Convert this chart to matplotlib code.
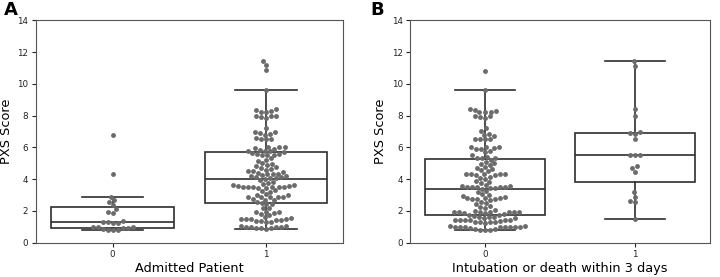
import numpy as np
import pandas as pd
import seaborn as sns
import matplotlib.pyplot as plt

# PXS score, panel A: admitted patient 0 / 1
admit_0 = [0.78, 0.8, 0.8, 0.85, 0.9, 0.9, 0.95, 1.0, 1.0,
           1.2, 1.25, 1.3, 1.3, 1.35, 1.85, 1.95, 2.1, 2.35,
           2.55, 2.65, 2.9, 4.3, 6.8]
admit_1 = [11.45, 11.2, 10.85, 9.6,
           8.4, 8.35, 8.3, 8.25, 8.2, 8.0, 7.95, 7.95, 7.9, 7.85,
           7.2, 7.0, 6.95, 6.9, 6.85, 6.8, 6.6, 6.55, 6.5, 6.5,
           6.05, 6.0, 6.0, 5.95, 5.9, 5.85, 5.8, 5.8,
           5.75, 5.7, 5.65, 5.6, 5.6, 5.55, 5.5, 5.5, 5.3, 5.2, 5.15,
           5.0, 4.95, 4.9, 4.8, 4.75, 4.7, 4.65, 4.6, 4.5, 4.5, 4.45, 4.4,
           4.35, 4.3, 4.3, 4.25, 4.2, 4.2, 4.1, 4.1, 4.05, 4.05,
           4.0, 3.95, 3.8, 3.75, 3.7, 3.6, 3.55, 3.55, 3.6,
           3.5, 3.5, 3.5, 3.45, 3.45, 3.5, 3.5, 3.5, 3.3, 3.25, 3.2,
           3.05, 3.0, 3.0, 2.9, 2.9, 2.9, 2.85, 2.85, 2.75, 2.7, 2.7,
           2.55, 2.5,
           2.45, 2.4, 2.2, 2.15, 1.95, 1.9, 1.9, 1.85, 1.75, 1.8,
           1.6, 1.55, 1.5, 1.5, 1.45, 1.5, 1.5, 1.45, 1.35, 1.3, 1.3, 1.35,
           1.05, 1.0, 1.0, 1.0, 1.05, 0.95, 0.9, 0.9, 0.9, 0.85]

# panel B: intubation or death within 3 days 0 / 1
event_0 = [10.8, 9.6,
           8.4, 8.35, 8.3, 8.25, 8.2, 8.2, 8.0, 7.95, 7.9, 7.85,
           7.2, 7.05, 6.85, 6.8, 6.7, 6.5, 6.5, 6.55, 6.5,
           6.05, 6.0, 6.0, 5.95, 5.9, 5.9, 5.75, 5.7, 5.5, 5.4, 5.35, 5.35, 5.3,
           5.2, 5.1, 5.0, 4.95, 4.9, 4.75, 4.7, 4.65, 4.55, 4.5,
           4.35, 4.3, 4.3, 4.25, 4.35, 4.3, 4.25, 4.1, 4.05, 4.0,
           3.85, 3.8, 3.75, 3.6, 3.55,
           3.5, 3.5, 3.5, 3.45, 3.5, 3.5, 3.55, 3.45, 3.4,
           3.25, 3.2, 3.0, 3.05, 2.95,
           2.85, 2.8, 2.8, 2.75, 2.75, 2.8, 2.7, 2.75,
           2.55, 2.5, 2.45, 2.3, 2.25, 2.2, 2.05, 2.0,
           1.95, 1.9, 1.9, 1.9, 1.85, 1.9, 1.95, 1.9, 1.85,
           1.8, 1.75, 1.75, 1.7,
           1.6, 1.6, 1.55, 1.55, 1.6, 1.45, 1.4, 1.4, 1.45, 1.4, 1.4,
           1.3, 1.3, 1.25, 1.3, 1.35, 1.3,
           1.05, 1.0, 1.0, 1.0, 1.0, 1.0, 1.05, 1.0, 1.0, 1.0,
           0.9, 0.85, 0.85, 0.8, 0.8, 0.78]
event_1 = [1.5, 2.55, 2.6, 2.9, 3.2, 4.45, 4.7, 4.8, 5.5, 5.55, 5.55,
           6.5, 6.85, 6.9, 6.95, 7.95, 8.45, 11.15, 11.45]

panels = [
    ("A", "Admitted Patient", admit_0, admit_1),
    ("B", "Intubation or death within 3 days", event_0, event_1),
]

line_col = "#2e2e2e"
dot_col = "#6b6b6b"

fig = plt.figure(figsize=(7.2, 2.77), dpi=100)
ax_pos = [[0.050, 0.1245, 0.426, 0.8015], [0.570, 0.1245, 0.4157, 0.8015]]
letter_x = [0.006, 0.515]

for i, (letter, xlabel, g0, g1) in enumerate(panels):
    ax = fig.add_axes(ax_pos[i])
    df = pd.DataFrame({
        "group": ["0"] * len(g0) + ["1"] * len(g1),
        "score": g0 + g1,
    })
    lw = 1.2
    ax.boxplot([g0, g1], positions=[0, 1], widths=0.8, showfliers=False,
               patch_artist=True, whis=1.5,
               boxprops=dict(facecolor="white", edgecolor=line_col, linewidth=lw),
               whiskerprops=dict(color=line_col, linewidth=lw),
               capprops=dict(color=line_col, linewidth=lw),
               medianprops=dict(color=line_col, linewidth=lw),
               zorder=1)
    sns.swarmplot(data=df, x="group", y="score", order=["0", "1"], ax=ax,
                  color=dot_col, size=3.5, zorder=3)
    ax.set_xlim(-0.5, 1.5)
    ax.set_ylim(0, 14)
    ax.set_yticks(np.arange(0, 15, 2))
    ax.set_xticks([0, 1])
    ax.set_xticklabels(["0", "1"])
    ax.tick_params(labelsize=6.3, length=3, width=0.8, pad=2.5, colors="#222222")
    ax.set_xlabel(xlabel, fontsize=9.3, labelpad=2)
    ax.set_ylabel("PXS Score", fontsize=9.3, labelpad=3)
    for s in ax.spines.values():
        s.set_color("#555555")
        s.set_linewidth(0.8)
    fig.text(letter_x[i], 0.995, letter, fontsize=13, fontweight="bold",
             va="top", ha="left")

fig.savefig("out.png", dpi=100)
